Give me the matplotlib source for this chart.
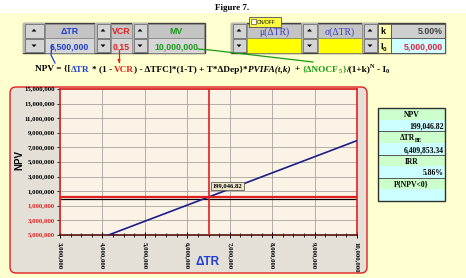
import matplotlib
matplotlib.use("Agg")
import matplotlib.pyplot as plt
import matplotlib.transforms as mtrans
from matplotlib.patches import Rectangle, FancyBboxPatch, Polygon
from matplotlib.ticker import FuncFormatter, MultipleLocator

# chart data
dtr = [3000000, 4000000, 5000000, 6000000, 7000000, 8000000, 9000000, 10000000]
npv = [-7530000, -5320000, -3110000, -905000, 1300000, 3510000, 5720000, 7930000]
base_dtr = 6500000
base_npv = 199046.82
y_ticks = [-5000000, -3000000, -1000000, 1000000, 3000000, 5000000, 7000000,
           9000000, 11000000, 13000000, 15000000]

# inputs shown in the control strip
ctrl_labels = ["\u0394TR", "VCR", "MV"]
ctrl_values = ["6,500,000", "0.15", "10,000,000"]
k_value = "5.00%"
i0_value = "5,000,000"

# result table
table_labels = ["NPV", "\u0394TR", "IRR", "P{NPV<0}"]
table_values = ["199,046.82", "6,409,853.34", "5.86%", ""]

W, H = 466, 278
fig = plt.figure(figsize=(W / 100, H / 100), dpi=100)
T = fig.dpi_scale_trans
SERIF = "Liberation Serif"
SANS = "Liberation Sans"
RED = "#E02020"
BLUE = "#1F3FD0"
GREEN = "#1A9A1A"


def P(x, y):
    # pixel (from top-left) -> inches
    return x / 100, (H - y) / 100


def rect(x0, y0, x1, y1, fc, ec="none", lw=0.8, z=1):
    r = Rectangle(P(x0, y1), (x1 - x0) / 100, (y1 - y0) / 100, transform=T,
                  fc=fc, ec=ec, lw=lw, zorder=z)
    fig.patches.append(r)


def txt(x, y, s, **kw):
    return fig.text(*P(x, y), s, transform=T, **kw)


def line(xs, ys, color, lw=1.0, z=3):
    pts = [P(a, b) for a, b in zip(xs, ys)]
    fig.add_artist(plt.Line2D([p[0] for p in pts], [p[1] for p in pts],
                              transform=T, color=color, lw=lw, zorder=z))


def tri(cx, cy, up):
    if up:
        pts = [P(cx - 2.5, cy + 1), P(cx + 2.5, cy + 1), P(cx, cy - 1.6)]
    else:
        pts = [P(cx - 2.5, cy - 1), P(cx + 2.5, cy - 1), P(cx, cy + 1.6)]
    fig.patches.append(Polygon(pts, closed=True, transform=T, fc="black", ec="none", zorder=4))


def spinner(x0, x1):
    rect(x0, 23, x1, 53, "#B8B8B8", z=2)
    for ya, yb in [(24, 37.5), (38.5, 52)]:
        rect(x0 + 1.5, ya, x1 - 1.5, yb, "#D4D4D4", ec="#707070", lw=0.6, z=3)
    tri((x0 + x1) / 2, 30.5, True)
    tri((x0 + x1) / 2, 45.5, False)


# backgrounds
rect(0, 0, W, 13, "white", z=0)
rect(0, 13, W, H, "#FFFFD0", z=0)
txt(232, 10, "Figure 7.", family=SERIF, weight="bold", fontsize=6.5, ha="center", va="baseline")

# left control group
rect(23, 23, 205, 53, "#B0B0B0", ec="#404040", lw=1.0, z=1)
spinner(23, 45)
spinner(95, 111)
spinner(132, 148)
cols = [(45, 94, BLUE), (111, 132, RED), (148, 204, GREEN)]
for (x0, x1, c), lab, val in zip(cols, ctrl_labels, ctrl_values):
    rect(x0, 23.5, x1, 38, "#C4C4C4", ec="#808080", lw=0.5, z=2)
    rect(x0, 38, x1, 52.5, "#D6D6D6", ec="#808080", lw=0.5, z=2)
    txt((x0 + x1) / 2, 34.5, lab, family=SANS, weight="bold", fontsize=6.3, color=c,
        ha="center", va="baseline", zorder=5)
    txt((x0 + x1) / 2, 49.5, val, family=SANS, weight="bold", fontsize=6.3, color=c,
        ha="center", va="baseline", zorder=5)

# right control group
rect(231, 23, 445, 53, "#B0B0B0", ec="#404040", lw=1.0, z=1)
spinner(231, 247)
spinner(301, 318)
spinner(362, 378)
for x0, x1, lab in [(247, 301, "\u03bc(\u0394TR)"), (318, 362, "\u03c3(\u0394TR)")]:
    rect(x0, 23.5, x1, 38, "#C4C4C4", ec="#808080", lw=0.5, z=2)
    rect(x0, 38, x1, 52.5, "#FFFF00", ec="#808080", lw=0.5, z=2)
    txt((x0 + x1) / 2, 34.5, lab, family=SERIF, fontsize=7, color="#3A3AC8",
        ha="center", va="baseline", zorder=5)
rect(378, 23.5, 391, 38, "#FFFFB0", ec="#404040", lw=0.5, z=2)
rect(378, 38, 391, 52.5, "#FFFFB0", ec="#404040", lw=0.5, z=2)
rect(391, 23.5, 445, 38, "#CFCFCF", ec="#404040", lw=0.5, z=2)
rect(391, 38, 445, 52.5, "#D0FFFF", ec="#404040", lw=0.5, z=2)
txt(380, 34.5, "k", family=SANS, weight="bold", fontsize=6.5, va="baseline", zorder=5)
txt(380, 49, "I", family=SANS, weight="bold", fontsize=6.5, va="baseline", zorder=5)
txt(382.5, 51, "0", family=SANS, weight="bold", fontsize=4.5, va="baseline", zorder=5)
txt(443, 34.5, k_value, family=SANS, weight="bold", fontsize=6.3, color="#404040",
    ha="right", va="baseline", zorder=5)
txt(443, 49.5, i0_value, family=SANS, weight="bold", fontsize=6.3, color="#E02040",
    ha="right", va="baseline", zorder=5)

# ON/OFF checkbox
rect(249, 17, 281, 26.5, "#FFFF40", ec="#505050", lw=0.6, z=3)
rect(251, 19, 256, 24, "white", ec="#505050", lw=0.5, z=4)
txt(257, 23.8, "ON/OFF", family=SANS, fontsize=3.6, va="baseline", zorder=5)

# connector lines from inputs to formula
line([52, 51, 55], [45, 55, 63], BLUE, lw=0.9)
line([119, 119], [50, 62], RED, lw=0.9)
fig.patches.append(Polygon([P(117.3, 59), P(120.7, 59), P(119, 63)], transform=T,
                           fc=RED, ec="none", zorder=4))
line([198, 210, 313], [49, 50, 62], GREEN, lw=0.9)

# formula line: each run is one font; coloured pieces placed by prefix widths
fig.canvas.draw()
rend = fig.canvas.get_renderer()
FS = 6.7
FSS = 4.5
BASE_Y = 71.5


def width(s, **kw):
    t = fig.text(0, 0, s, **kw)
    w = t.get_window_extent(renderer=rend).width
    t.remove()
    return w


def run(x0, y, parts, **kw):
    # parts: list of (text, color); returns x of the run's right end
    full = ""
    for s, c in parts:
        full += s
        piece = s.strip()
        if piece:
            head = full.rstrip()
            xs = x0 + width(head, **kw) - width(piece, **kw)
            txt(xs, y, piece, color=c, va="baseline", zorder=5, **kw)
    return x0 + width(full, **kw)


bold = dict(family=SERIF, weight="bold", fontsize=FS)
small = dict(family=SERIF, weight="bold", fontsize=FSS)
x = run(35, BASE_Y, [("NPV = {[", "black"), ("\u0394TR", BLUE), (" * (1 - ", "black"),
                     ("VCR", RED), (") - \u0394TFC]*(1-T) + T*\u0394Dep}*", "black")], **bold)
x = run(x + 0.3, BASE_Y, [("PVIFA(t,k)", "black")], style="italic", **bold)
x = run(x + 4.5, BASE_Y, [("+ ", "black"), ("{\u0394NOCF", GREEN)], **bold)
x = run(x + 0.3, BASE_Y + 1.6, [("5", GREEN)], **small)
x = run(x + 0.3, BASE_Y, [("}", GREEN), ("/(1+k)", "black")], **bold)
x = run(x + 0.5, BASE_Y - 3.5, [("N", "black")], **small)
x = run(x + 2.0, BASE_Y, [("- I", "black")], **bold)
run(x + 0.3, BASE_Y + 1.6, [("0", "black")], **small)

# chart panel
panel = FancyBboxPatch(P(10, 273), 357 / 100, 186 / 100, boxstyle="round,pad=0,rounding_size=0.06",
                       transform=T, fc="#E4E0D8", ec=RED, lw=1.0, zorder=1)
fig.patches.append(panel)

ax = fig.add_axes([60 / W, 1 - 235 / H, 297 / W, 146 / H])
ax.set_zorder(3)
ax.set_facecolor("#FBF4E6")
ax.plot(dtr, npv, color="#1C1C8C", lw=1.2, zorder=3)
ax.set_xlim(3000000, 10000000)
ax.set_ylim(-5000000, 15000000)
ax.xaxis.set_major_locator(MultipleLocator(1000000))
ax.xaxis.set_minor_locator(MultipleLocator(250000))
ax.set_yticks(y_ticks)
ax.set_yticklabels([])
ax.grid(True, which="major", color="#A8A49C", lw=0.6)
ax.axhline(0, color="black", lw=0.9, zorder=2)
ax.axhline(base_npv, color=RED, lw=1.6, zorder=4)
ax.axvline(base_dtr, color=RED, lw=1.2, zorder=4)
ax.annotate("199,046.82", (base_dtr, base_npv), xytext=(3, 7), textcoords="offset points",
            family=SERIF, weight="bold", fontsize=4.8, zorder=6,
            bbox=dict(boxstyle="square,pad=0.25", fc="#EFE6CC", ec="#606050", lw=0.6))
for side in ["left", "top", "right"]:
    ax.spines[side].set_color(RED)
    ax.spines[side].set_linewidth(1.2)
ax.spines["bottom"].set_color("#501010")
ax.spines["bottom"].set_linewidth(1.2)

# y tick labels: negatives shown in red without sign
ytr = mtrans.blended_transform_factory(ax.transAxes, ax.transData)
for v in y_ticks:
    ax.text(-0.018, v, f"{abs(v):,}", transform=ytr, ha="right", va="center",
            family=SERIF, weight="bold", fontsize=4.9,
            color=RED if v < 0 else "black", clip_on=False)

ax.xaxis.set_major_formatter(FuncFormatter(lambda v, p: f"{v:,.0f}"))
ax.tick_params(axis="y", length=2.5, width=0.6)
ax.tick_params(axis="x", which="major", direction="inout", length=4, width=0.7,
               pad=3, labelsize=4.9, labelrotation=-90)
ax.tick_params(axis="x", which="minor", direction="inout", length=3, width=0.6)
for lab in ax.get_xticklabels():
    lab.set_family(SERIF)
    lab.set_weight("bold")

txt(19, 160, "NPV", family=SANS, weight="bold", fontsize=7, rotation=90,
    ha="center", va="center", zorder=5)
txt(208, 262, "\u0394TR", family=SANS, weight="bold", fontsize=8.5, color=BLUE,
    ha="center", va="center", zorder=5)

# result table
row_h = 93 / 8
for i in range(8):
    fc = "#CCFFCC" if i % 2 == 0 else "#CCFFFF"
    rect(378, 108 + i * row_h, 445, 108 + (i + 1) * row_h, fc, z=2)
for i in range(1, 4):
    line([378, 445], [108 + 2 * i * row_h] * 2, "#404040", lw=0.6)
rect(378, 108, 445, 201, "none", ec="#303030", lw=1.0, z=4)
for i, (lab, val) in enumerate(zip(table_labels, table_values)):
    yh = 108 + 2 * i * row_h + row_h * 0.78
    yv = 108 + (2 * i + 1) * row_h + row_h * 0.78
    t = txt(411.5, yh, lab, family=SERIF, weight="bold", fontsize=5.5,
            ha="center", va="baseline", zorder=5)
    if lab == "\u0394TR":
        t.set_position(P(407, yh))
        txt(414.5, yh + 1.5, "BE", family=SERIF, weight="bold", fontsize=4,
            va="baseline", zorder=5)
    txt(444, yv, val, family=SERIF, weight="bold", fontsize=5.5,
        ha="right", va="baseline", zorder=5)

fig.savefig("out.png", dpi=100)
